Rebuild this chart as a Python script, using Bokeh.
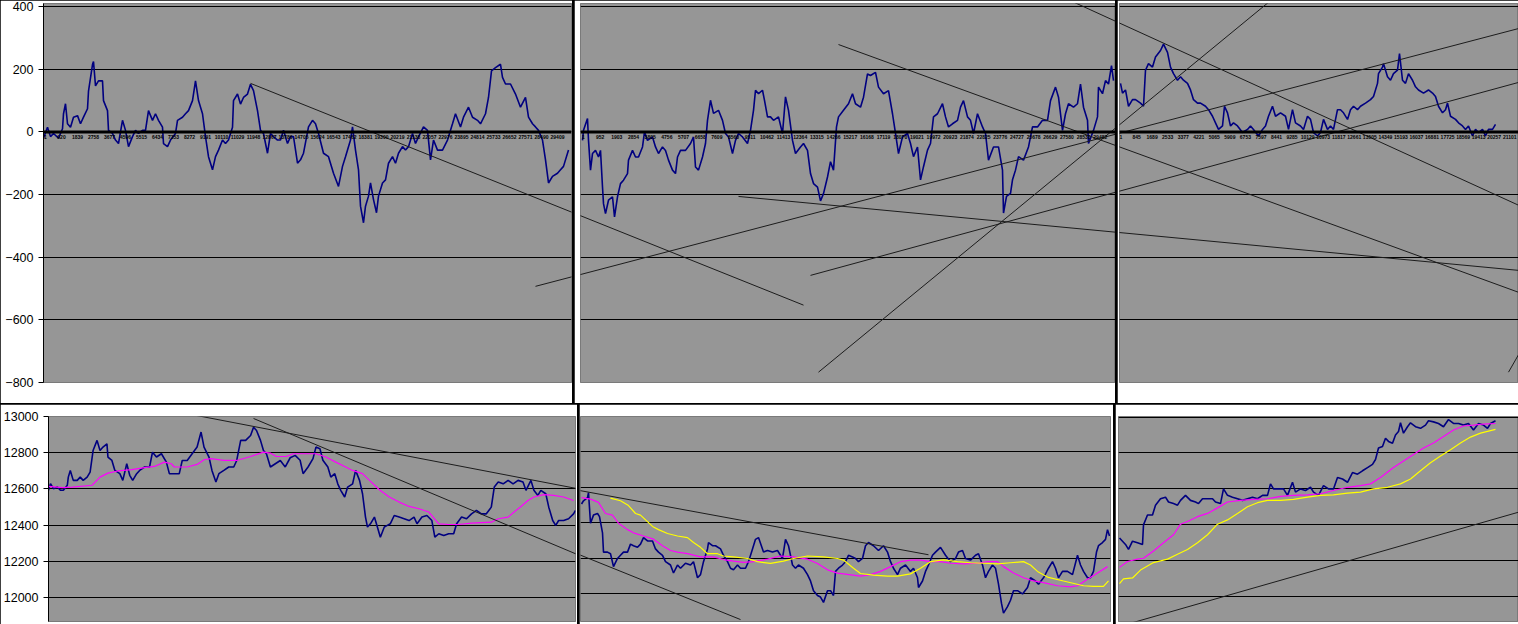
from bokeh.plotting import figure
from bokeh.models import Range1d, FixedTicker, Grid, Span
from bokeh.layouts import row, column
from bokeh.embed import file_html
from bokeh.resources import INLINE
from bokeh.core.properties import value

# ---------------- data ----------------
# top-left panel (deviation series)
tl_t = [0, 4, 7, 10, 15, 19, 20, 22, 24, 27, 30, 34, 37, 40, 44, 45, 49, 50, 52, 55, 59, 60, 64, 65, 69, 72, 75, 79, 82, 85,
        89, 92, 95, 99, 102, 105, 109, 112, 115, 119, 120, 124, 127, 132, 134, 139, 142, 145, 149, 152, 155, 159, 162, 165,
        169, 172, 175, 179, 182, 185, 189, 190, 194, 197, 200, 204, 207, 210, 214, 217, 220, 224, 227, 230, 234, 237, 240,
        244, 247, 250, 254, 257, 260, 265, 269, 272, 275, 280, 285, 290, 295, 299, 302, 307, 309, 312, 315, 317, 320, 322,
        325, 327, 330, 333, 335, 339, 342, 345, 349, 352, 355, 359, 362, 365, 369, 372, 375, 380, 384, 387, 390, 394, 399,
        404, 409, 412, 417, 420, 425, 429, 434, 437, 442, 445, 448, 452, 457, 459, 462, 467, 472, 477, 482, 485, 489, 492,
        495, 499, 502, 505, 509, 514, 517, 520, 525]
tl_v = [-20, 15, -15, -5, -20, 10, 58, 90, 26, 15, 47, 52, 26, 47, 74, 130, 215, 225, 147, 163, 163, 100, 68, 5, -5, -26, -37,
        37, 5, -47, -15, 5, -5, 5, 5, 68, 37, 58, 37, 15, -37, -47, -26, -5, 37, 47, 58, 68, 100, 163, 100, 58, -15, -79, -121,
        -79, -58, -26, -37, -26, 15, 100, 121, 89, 110, 121, 152, 132, 68, 5, -5, -68, -5, -15, -26, -26, 5, -37, -15, -15,
        -100, -89, -68, 16, 37, 26, -5, -68, -79, -132, -174, -110, -79, -26, 16, -58, -121, -237, -290, -237, -205, -163,
        -216, -258, -205, -163, -153, -100, -79, -100, -68, -47, -58, -47, -5, -37, -16, 16, 5, -89, -26, -58, -58, -26, 26,
        58, 16, 47, 79, 47, 37, 26, 58, 110, 195, 205, 216, 174, 153, 153, 121, 79, 110, 47, 26, 16, 5, -26, -89, -163, -142,
        -132, -121, -110, -58]

# top-middle panel
tm_t = [2, 3, 7, 8, 10, 12, 15, 18, 20, 22, 23, 25, 28, 32, 34, 37, 40, 43, 47, 48, 52, 55, 58, 62, 64, 67, 72, 75, 78, 82,
        85, 88, 92, 95, 97, 100, 105, 110, 113, 115, 118, 122, 125, 127, 130, 133, 138, 142, 145, 148, 152, 155, 158, 162,
        167, 170, 173, 175, 178, 182, 184, 187, 190, 193, 198, 202, 205, 208, 212, 215, 220, 223, 227, 230, 233, 237, 240,
        243, 247, 250, 253, 256, 258, 263, 268, 272, 275, 280, 283, 287, 290, 295, 298, 303, 308, 312, 315, 318, 322, 327,
        330, 333, 337, 340, 343, 347, 350, 353, 357, 362, 365, 368, 372, 377, 380, 383, 387, 390, 393, 397, 402, 405, 408,
        413, 418, 422, 423, 426, 430, 432, 435, 438, 443, 448, 452, 457, 462, 467, 470, 475, 478, 482, 485, 488, 493, 497,
        500, 503, 507, 508, 513, 517, 518, 522, 525, 528, 531, 533]
tm_v = [-27, 5, 43, -27, -122, -69, -59, -80, -59, -176, -229, -261, -218, -207, -271, -207, -165, -154, -133, -90, -59, -80,
        -80, -48, 0, -27, -16, -48, -69, -48, -59, -90, -122, -133, -80, -59, -59, -37, -16, -112, -122, -80, -37, 37, 101,
        59, 69, 37, -5, -16, -69, -27, -5, -16, -37, 5, 69, 133, 122, 133, 101, 48, 48, 37, 48, -5, 112, 69, -27, -69, -48,
        -37, -59, -133, -165, -176, -220, -197, -144, -95, -122, 16, 48, 69, 90, 122, 90, 79, 111, 185, 180, 190, 143, 122,
        132, 58, -5, -69, -16, -5, -37, -79, -48, -153, -111, -58, -37, 48, 58, 90, 48, 16, 26, 37, 79, 100, 48, 37, -5, 58,
        16, -5, -90, -48, -48, -122, -259, -206, -196, -153, -122, -79, -90, -48, 16, 16, 37, 37, 100, 143, 111, 5, 58, 90,
        79, 90, 153, 79, 37, -37, 5, 48, 143, 122, 164, 153, 212, 164]

# top-right panel
tr_t = [1, 3, 6, 9, 13, 16, 21, 24, 26, 29, 33, 36, 41, 44, 48, 51, 54, 58, 61, 64, 68, 71, 74, 78, 81, 86, 89, 93, 96, 99,
        103, 105, 108, 111, 114, 118, 123, 128, 131, 134, 139, 143, 146, 149, 153, 156, 161, 166, 169, 173, 176, 181, 184,
        188, 191, 194, 198, 201, 204, 208, 211, 214, 218, 221, 224, 228, 231, 234, 238, 241, 246, 251, 254, 258, 259, 263,
        264, 268, 271, 274, 278, 280, 283, 286, 289, 293, 296, 299, 304, 309, 313, 316, 319, 323, 326, 328, 331, 336, 339,
        343, 346, 349, 353, 356, 359, 363, 366, 369, 373, 376]
tr_v = [155, 124, 134, 82, 103, 103, 92, 82, 197, 218, 207, 239, 260, 280, 254, 207, 186, 165, 176, 165, 155, 134, 103, 92,
        92, 82, 71, 50, 29, 8, 19, 82, 61, 19, 29, 19, -2, 8, 19, 8, -13, 8, 19, 50, 82, 50, 61, 50, 8, 71, 29, 19, 8, 50, 40,
        -2, -13, -2, 40, 8, 19, 8, 71, 71, 61, 40, 71, 82, 71, 82, 92, 103, 113, 155, 186, 207, 218, 176, 165, 186, 197, 250,
        165, 155, 186, 165, 144, 134, 124, 134, 124, 113, 82, 61, 71, 92, 50, 40, 29, 19, 8, 19, -13, 8, -2, 8, -13, 8, 8, 24]

# bottom-left panel (price, moving average)
bl_t = [0, 2, 5, 9, 12, 15, 19, 20, 22, 25, 29, 32, 35, 39, 42, 45, 49, 52, 55, 59, 60, 64, 67, 72, 75, 79, 82, 85, 89, 92,
        97, 102, 105, 109, 114, 119, 122, 127, 132, 135, 140, 145, 150, 154, 157, 162, 165, 169, 172, 177, 182, 187, 190,
        194, 199, 204, 207, 210, 214, 217, 220, 224, 229, 234, 239, 244, 249, 254, 257, 262, 267, 270, 274, 277, 282, 285,
        289, 292, 295, 299, 302, 307, 310, 314, 317, 320, 322, 325, 329, 332, 335, 339, 342, 345, 349, 354, 359, 364, 369,
        372, 377, 382, 387, 390, 394, 399, 404, 409, 412, 417, 422, 427, 432, 437, 442, 447, 450, 454, 459, 464, 469, 474,
        479, 482, 487, 490, 494, 497, 502, 505, 509, 512, 515, 520, 525, 530, 532]
bl_v = [12592, 12629, 12601, 12610, 12592, 12592, 12620, 12665, 12702, 12647, 12647, 12665, 12647, 12665, 12693, 12812, 12868,
        12812, 12831, 12849, 12776, 12757, 12702, 12684, 12647, 12739, 12675, 12647, 12684, 12702, 12721, 12721, 12803, 12776,
        12794, 12748, 12684, 12684, 12684, 12757, 12757, 12794, 12831, 12914, 12831, 12776, 12702, 12638, 12684, 12702, 12721,
        12721, 12757, 12868, 12868, 12895, 12941, 12923, 12868, 12812, 12794, 12721, 12739, 12757, 12721, 12772, 12785, 12758,
        12684, 12721, 12767, 12831, 12822, 12758, 12721, 12665, 12684, 12628, 12592, 12555, 12610, 12628, 12702, 12647, 12573,
        12444, 12389, 12407, 12444, 12389, 12333, 12389, 12398, 12407, 12453, 12444, 12435, 12425, 12444, 12407, 12444, 12453,
        12425, 12333, 12352, 12342, 12352, 12352, 12407, 12444, 12435, 12462, 12481, 12462, 12462, 12499, 12610, 12638, 12628,
        12647, 12628, 12647, 12638, 12592, 12647, 12592, 12564, 12592, 12573, 12499, 12425, 12398, 12425, 12425, 12435, 12462,
        12481]
bl_ma_t = [0, 14, 24, 44, 52, 60, 70, 84, 97, 107, 117, 124, 127, 140, 150, 157, 164, 177, 190, 204, 217, 224, 230, 240, 247,
           270, 280, 290, 300, 307, 317, 324, 334, 344, 354, 364, 374, 384, 394, 404, 414, 427, 447, 454, 464, 470, 477, 484,
           490, 500, 510, 520, 530]
bl_ma_v = [12614, 12607, 12610, 12620, 12665, 12687, 12699, 12706, 12717, 12724, 12748, 12739, 12721, 12721, 12735, 12761,
           12767, 12757, 12757, 12779, 12803, 12798, 12779, 12779, 12794, 12794, 12776, 12748, 12721, 12702, 12684, 12647,
           12595, 12555, 12527, 12503, 12490, 12472, 12407, 12403, 12403, 12411, 12416, 12435, 12444, 12472, 12503, 12536,
           12555, 12568, 12564, 12555, 12536]

# bottom-middle panel
bm_t = [1, 3, 7, 8, 10, 13, 17, 19, 22, 23, 27, 30, 33, 37, 40, 43, 47, 50, 53, 57, 60, 63, 67, 72, 75, 78, 82, 85, 90, 93,
        97, 100, 105, 110, 113, 117, 120, 123, 127, 128, 132, 135, 140, 143, 147, 150, 153, 157, 160, 165, 168, 172, 175,
        178, 183, 187, 192, 197, 202, 205, 208, 212, 215, 218, 223, 227, 230, 233, 237, 240, 243, 247, 250, 253, 255, 258,
        262, 265, 268, 272, 275, 278, 282, 285, 288, 293, 298, 303, 307, 310, 313, 317, 320, 325, 330, 333, 337, 338, 342,
        345, 348, 352, 355, 360, 365, 370, 375, 378, 382, 385, 390, 395, 398, 402, 405, 408, 412, 415, 418, 421, 423, 427,
        430, 433, 437, 442, 447, 450, 455, 458, 463, 468, 472, 475, 478, 482, 487, 492, 497, 500, 503, 507, 510, 513, 516,
        518, 522, 525, 527, 529]
bm_v = [12506, 12524, 12542, 12570, 12397, 12443, 12452, 12434, 12343, 12234, 12234, 12225, 12152, 12198, 12216, 12234, 12234,
        12279, 12270, 12261, 12279, 12316, 12297, 12297, 12252, 12234, 12216, 12180, 12161, 12116, 12161, 12143, 12171, 12161,
        12180, 12089, 12107, 12180, 12252, 12288, 12270, 12270, 12252, 12216, 12180, 12143, 12134, 12161, 12143, 12143, 12180,
        12252, 12306, 12316, 12234, 12243, 12234, 12243, 12198, 12306, 12270, 12161, 12143, 12161, 12143, 12107, 12071, 12016,
        11989, 11980, 11950, 12016, 12016, 11989, 12125, 12143, 12161, 12180, 12216, 12207, 12198, 12180, 12198, 12270, 12288,
        12270, 12243, 12270, 12234, 12180, 12143, 12107, 12143, 12161, 12125, 12143, 12089, 12034, 12071, 12125, 12161, 12216,
        12234, 12261, 12216, 12180, 12198, 12234, 12243, 12198, 12189, 12216, 12225, 12161, 12089, 12125, 12161, 12143, 12053,
        11944, 11889, 11926, 11962, 12016, 12016, 11998, 12034, 12089, 12071, 12053, 12089, 12143, 12180, 12143, 12089, 12125,
        12125, 12107, 12216, 12161, 12125, 12089, 12089, 12125, 12234, 12270, 12288, 12306, 12361, 12325]
bm_ma_t = [1, 10, 18, 25, 32, 38, 47, 53, 63, 73, 82, 90, 97, 107, 120, 133, 143, 153, 163, 173, 187, 200, 213, 227, 237, 247,
           257, 263, 280, 290, 300, 310, 320, 330, 340, 350, 360, 370, 383, 397, 407, 417, 423, 433, 443, 453, 463, 477, 490,
           497, 507, 517, 527]
bm_ma_v = [12542, 12533, 12515, 12452, 12443, 12397, 12361, 12343, 12325, 12307, 12270, 12243, 12234, 12225, 12207, 12207,
           12192, 12183, 12176, 12180, 12194, 12212, 12207, 12194, 12170, 12134, 12115, 12111, 12098, 12107, 12125, 12152,
           12180, 12189, 12189, 12180, 12180, 12171, 12167, 12171, 12180, 12180, 12152, 12116, 12089, 12071, 12062, 12044,
           12038, 12044, 12080, 12116, 12152]
bm_ma2_t = [30, 40, 48, 55, 60, 67, 72, 78, 87, 97, 107, 113, 120, 127, 137, 143, 153, 167, 177, 190, 203, 213, 227, 243, 257,
            263, 273, 280, 293, 307, 317, 330, 340, 350, 363, 377, 390, 403, 417, 430, 443, 450, 457, 467, 483, 503, 513, 523,
            528]
bm_ma2_v = [12539, 12524, 12497, 12452, 12443, 12406, 12379, 12361, 12339, 12325, 12316, 12288, 12261, 12225, 12225, 12212,
            12207, 12198, 12180, 12170, 12183, 12198, 12212, 12207, 12198, 12189, 12143, 12113, 12104, 12098, 12098, 12111,
            12143, 12180, 12190, 12180, 12174, 12171, 12167, 12174, 12180, 12161, 12125, 12093, 12071, 12044, 12040, 12040,
            12071]

# bottom-right panel
br_t = [1, 4, 7, 10, 14, 19, 24, 25, 29, 34, 37, 42, 47, 50, 55, 59, 62, 67, 72, 77, 80, 84, 89, 94, 97, 102, 105, 109, 114,
        119, 124, 129, 134, 139, 144, 149, 152, 155, 160, 165, 169, 174, 177, 182, 187, 192, 195, 200, 205, 210, 215, 219,
        224, 229, 234, 239, 244, 249, 254, 257, 260, 264, 267, 270, 274, 277, 280, 282, 285, 289, 292, 297, 302, 307, 310,
        315, 320, 325, 330, 335, 340, 345, 350, 355, 360, 365, 369, 372, 377]
br_v = [12325, 12307, 12289, 12261, 12307, 12298, 12289, 12398, 12453, 12453, 12508, 12544, 12553, 12526, 12517, 12508, 12535,
        12563, 12535, 12526, 12517, 12544, 12544, 12544, 12526, 12517, 12599, 12563, 12553, 12544, 12535, 12544, 12553, 12544,
        12563, 12563, 12627, 12599, 12599, 12599, 12563, 12636, 12581, 12599, 12590, 12608, 12581, 12563, 12617, 12599, 12599,
        12663, 12654, 12636, 12690, 12681, 12700, 12718, 12736, 12763, 12827, 12836, 12882, 12864, 12854, 12900, 12919, 12968,
        12910, 12946, 12968, 12946, 12937, 12955, 12979, 12973, 12964, 12946, 12986, 12964, 12964, 12955, 12964, 12928, 12964,
        12955, 12937, 12964, 12979]
br_ma_t = [1, 9, 19, 25, 35, 45, 55, 62, 69, 79, 89, 99, 109, 122, 135, 149, 162, 175, 189, 202, 215, 229, 242, 252, 262, 275,
           285, 295, 305, 315, 325, 335, 345, 355, 365, 377]
br_ma_v = [12161, 12194, 12207, 12212, 12252, 12298, 12343, 12402, 12417, 12444, 12462, 12493, 12526, 12535, 12541, 12544,
           12557, 12563, 12566, 12572, 12590, 12608, 12617, 12627, 12663, 12718, 12754, 12791, 12827, 12855, 12891, 12928,
           12950, 12955, 12961, 12964]
br_ma2_t = [1, 5, 14, 22, 35, 49, 59, 69, 79, 89, 99, 109, 119, 129, 139, 149, 162, 175, 189, 202, 215, 229, 242, 255, 269,
            282, 292, 302, 312, 322, 332, 342, 352, 362, 372, 377]
br_ma2_v = [12070, 12097, 12102, 12146, 12188, 12207, 12234, 12261, 12298, 12343, 12402, 12426, 12462, 12499, 12522, 12535,
            12535, 12541, 12553, 12563, 12566, 12575, 12581, 12599, 12608, 12627, 12654, 12700, 12745, 12782, 12818, 12855,
            12888, 12910, 12924, 12931]

# hand-drawn trend lines: (t0, v0, t1, v1) in each panel's own coordinates
tl_lines = [(207, 155, 760, -553), (492, -493, 1475, 330)]
tm_lines = [(-330, 155, 223, -553), (-45, -493, 938, 330), (258, 279, 938, -512), (230, -458, 938, 158),
            (158, -206, 938, -442), (490, 419, 938, -234), (238, -767, 690, 419)]
tr_lines = [(-584, -493, 399, 330), (-281, 279, 399, -512), (-309, -458, 399, 158), (-381, -206, 399, -442),
            (-49, 419, 399, -234), (-301, -767, 151, 419), (389, -767, 410, -650)]
bl_lines = [(92, 13066, 885, 12232), (207, 12989, 697, 11862)]
bm_lines = [(-445, 13044, 348, 12219), (-330, 12967, 160, 11853)]
br_lines = [(0, 11830, 400, 12469)]

# category-axis labels (row numbers) drawn along the zero line
tl_cat = ["1", "920", "1839", "2758", "3677", "4596", "5515", "6434", "7353", "8272", "9191", "10110", "11029", "11948",
          "12867", "13786", "14705", "15624", "16543", "17462", "18381", "19300", "20219", "21138", "22057", "22976",
          "23895", "24814", "25733", "26652", "27571", "28490", "29409"]
tm_cat = ["1", "952", "1903", "2854", "3805", "4756", "5707", "6658", "7609", "8560", "9511", "10462", "11413", "12364",
          "13315", "14266", "15217", "16168", "17119", "18070", "19021", "19972", "20923", "21874", "22825", "23776",
          "24727", "25678", "26629", "27580", "28531", "29482"]
tr_cat = ["1", "845", "1689", "2533", "3377", "4221", "5065", "5909", "6753", "7597", "8441", "9285", "10129", "10973",
          "11817", "12661", "13505", "14349", "15193", "16037", "16881", "17725", "18569", "19413", "20257", "21101"]

top_ticks = [-800, -600, -400, -200, 0, 200, 400]
bot_ticks = [12000, 12200, 12400, 12600, 12800, 13000]

# ---------------- style ----------------
PLOT_BG = "#969696"
NAVY = "#000080"
MAGENTA = "#FF00FF"
YELLOW = "#FFFF00"
LINE_INK = "#1c1c1c"
FONT = "Liberation Sans"


def make_panel(width, height, x_end, y_lo, y_hi, ticks, bl, br, bt, bb, with_axis):
    p = figure(width=width, height=height, x_range=Range1d(0, x_end), y_range=Range1d(y_lo, y_hi),
               output_backend="svg", toolbar_location=None, x_axis_location=None,
               y_axis_location="left" if with_axis else None,
               min_border_left=bl, min_border_right=br, min_border_top=bt, min_border_bottom=bb)
    for r in list(p.center):
        if isinstance(r, Grid):
            r.visible = False
    p.background_fill_color = PLOT_BG
    p.border_fill_color = "white"
    p.outline_line_color = "#7a7a7a"
    p.outline_line_width = 1
    if with_axis:
        ax = p.yaxis[0]
        ax.ticker = FixedTicker(ticks=ticks)
        ax.axis_line_color = "black"
        ax.major_tick_line_color = "black"
        ax.major_tick_out = 5
        ax.major_tick_in = 0
        ax.minor_tick_line_color = None
        ax.major_label_standoff = 5
        ax.major_label_text_font = FONT
        ax.major_label_text_font_size = "12.5px"
        ax.major_label_text_color = "black"
    grid = Grid(dimension=1, ticker=FixedTicker(ticks=ticks), grid_line_color="black", grid_line_width=1)
    p.add_layout(grid)
    return p


def add_lines(p, segs):
    p.segment(x0=[s[0] for s in segs], y0=[s[1] for s in segs], x1=[s[2] for s in segs], y1=[s[3] for s in segs],
              line_color=LINE_INK, line_width=1)


def add_zero_axis(p, labels, start, step):
    p.add_layout(Span(location=0, dimension="width", line_color="black", line_width=3))
    xs = [start + step * k for k in range(len(labels))]
    p.text(x=xs, y=[0] * len(labels), text=labels, text_font=value(FONT), text_font_size="5px",
           text_font_style="bold", text_align="center", text_baseline="top", y_offset=3, text_color="black")


# top row (total 572 + 2 + 541 + 2 + 401 = 1518)
TOP_H = 403
p_tl = make_panel(572, TOP_H, 528, -800, 410, top_ticks, 43, 1, 3, 21, True)
p_tl.line(tl_t, tl_v, line_color=NAVY, line_width=1.6)
add_lines(p_tl, tl_lines)
add_zero_axis(p_tl, tl_cat, 2, 16.0)

p_tm = make_panel(541, TOP_H, 535, -800, 410, top_ticks, 6, 0, 3, 21, False)
p_tm.line(tm_t, tm_v, line_color=NAVY, line_width=1.6)
add_lines(p_tm, tm_lines)
add_zero_axis(p_tm, tm_cat, 3, 16.67)

p_tr = make_panel(401, TOP_H, 399, -800, 410, top_ticks, 2, 0, 3, 21, False)
p_tr.line(tr_t, tr_v, line_color=NAVY, line_width=1.6)
add_lines(p_tr, tr_lines)
add_zero_axis(p_tr, tr_cat, 1.5, 15.55)

# bottom row (total 577 + 2 + 534 + 2 + 403 = 1518)
BOT_H = 220
p_bl = make_panel(577, BOT_H, 532, 11867, 13000, bot_ticks, 43, 2, 12, 3, True)
p_bl.line(bl_t, bl_v, line_color=NAVY, line_width=1.6)
p_bl.line(bl_ma_t, bl_ma_v, line_color=MAGENTA, line_width=1.2)
add_lines(p_bl, bl_lines)

p_bm = make_panel(534, BOT_H, 530, 11842, 13000, bot_ticks, 1, 3, 8, 0, False)
p_bm.line(bm_t, bm_v, line_color=NAVY, line_width=1.6)
p_bm.line(bm_ma_t, bm_ma_v, line_color=MAGENTA, line_width=1.2)
p_bm.line(bm_ma2_t, bm_ma2_v, line_color=YELLOW, line_width=1.2)
add_lines(p_bm, bm_lines)

p_br = make_panel(403, BOT_H, 400, 11859, 13003, bot_ticks, 3, 0, 12, 0, False)
p_br.line(br_t, br_v, line_color=NAVY, line_width=1.6)
p_br.line(br_ma_t, br_ma_v, line_color=MAGENTA, line_width=1.2)
p_br.line(br_ma2_t, br_ma2_v, line_color=YELLOW, line_width=1.2)
add_lines(p_br, br_lines)

top = row(p_tl, p_tm, p_tr, spacing=2, styles={"background-color": "black"})
bottom = row(p_bl, p_bm, p_br, spacing=2, styles={"background-color": "black"})
layout = column(top, bottom, spacing=1, styles={"background-color": "black"})

open("out.html", "w").write(file_html(layout, INLINE))
